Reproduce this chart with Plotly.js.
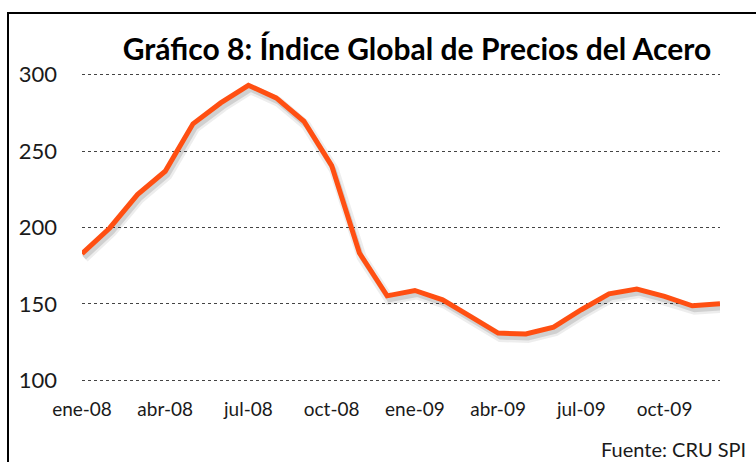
<!DOCTYPE html>
<html>
<head>
<meta charset="utf-8">
<script src="https://cdn.plot.ly/plotly-3.0.1.min.js"></script>
<style>
  html, body { margin: 0; padding: 0; background: #fff; overflow: hidden; }
  #wrap { position: relative; width: 756px; height: 462px; }
  #chart { position: absolute; left: 0; top: 0; width: 756px; height: 462px; }
  #frame { position: absolute; left: 7px; top: 12px; width: 800px; height: 500px;
           border-left: 2px solid #000; border-top: 2px solid #000; pointer-events: none; }
</style>
</head>
<body>
<div id="wrap">
  <div id="chart"></div>
  <div id="frame"></div>
</div>
<script>
// Months ene-08 .. dic-09 (index positions)
const monthIndex = [0,1,2,3,4,5,6,7,8,9,10,11,12,13,14,15,16,17,18,19,20,21,22,23];
// Índice Global de Precios del Acero (CRU SPI)
const steelIndex = [182.8, 199.7, 221.5, 236.8, 267.8, 281.5, 293.0, 284.8, 269.5, 240.5, 183.3, 155.3,
                    158.8, 152.7, 141.8, 130.9, 130.3, 134.8, 146.2, 156.6, 159.7, 154.9, 148.8, 150.1];
const tickPositions = [0, 3, 6, 9, 12, 15, 18, 21];
const tickLabels = ["ene-08", "abr-08", "jul-08", "oct-08", "ene-09", "abr-09", "jul-09", "oct-09"];
const yTicks = [100, 150, 200, 250, 300];

const fontFamily = "Lato, 'Liberation Sans', sans-serif";

const traces = [
  // soft drop shadow (same data on slightly offset axes)
  { x: monthIndex, y: steelIndex, xaxis: "x", yaxis: "y", mode: "lines",
    line: { color: "rgba(0,0,0,0.07)", width: 10 }, hoverinfo: "skip", showlegend: false },
  { x: monthIndex, y: steelIndex, xaxis: "x", yaxis: "y", mode: "lines",
    line: { color: "rgba(0,0,0,0.12)", width: 5 }, hoverinfo: "skip", showlegend: false },
  // main series
  { x: monthIndex, y: steelIndex, xaxis: "x2", yaxis: "y2", mode: "lines",
    line: { color: "#FF4F12", width: 5 }, showlegend: false, name: "Índice" }
];

const layout = {
  width: 756, height: 462,
  margin: { l: 82, r: 36, t: 67.4, b: 73.9 },
  paper_bgcolor: "rgba(0,0,0,0)",
  plot_bgcolor: "rgba(0,0,0,0)",
  showlegend: false,
  title: {
    text: "Gráfico 8: Índice Global de Precios del Acero",
    font: { family: fontFamily, size: 30, color: "#000", weight: "bold" },
    x: 417 / 756, xanchor: "center", xref: "container",
    y: 1 - 49 / 462, yanchor: "middle", yref: "container"
  },
  // base axes for shadow (offset a few pixels right/down)
  xaxis: { range: [-0.08, 22.92], visible: false, fixedrange: true },
  yaxis: { range: [97.6, 307.6], visible: false, fixedrange: true },
  // main axes
  xaxis2: {
    overlaying: "x", anchor: "y2", range: [0, 23],
    tickmode: "array", tickvals: tickPositions, ticktext: tickLabels,
    showgrid: false, zeroline: false, showline: false, ticks: "",
    ticklabelstandoff: 8,
    tickfont: { family: fontFamily, size: 19, color: "#1a1a1a" }
  },
  yaxis2: {
    overlaying: "y", anchor: "x2", range: [95, 305],
    tickmode: "array", tickvals: yTicks,
    showgrid: true, gridcolor: "#444", gridwidth: 1, griddash: "dot",
    zeroline: false, showline: false, ticks: "",
    ticklabelstandoff: 24,
    tickfont: { family: fontFamily, size: 22, color: "#1a1a1a" }
  },
  annotations: [{
    text: "Fuente: CRU SPI", xref: "paper", yref: "paper",
    x: (748 - 82) / 638, y: (388.1 - 449) / 320.7, xanchor: "right", yanchor: "middle",
    showarrow: false, font: { family: fontFamily, size: 20, color: "#1a1a1a" }
  }]
};

Plotly.newPlot("chart", traces, layout, { displayModeBar: false, staticPlot: true });
</script>
</body>
</html>
